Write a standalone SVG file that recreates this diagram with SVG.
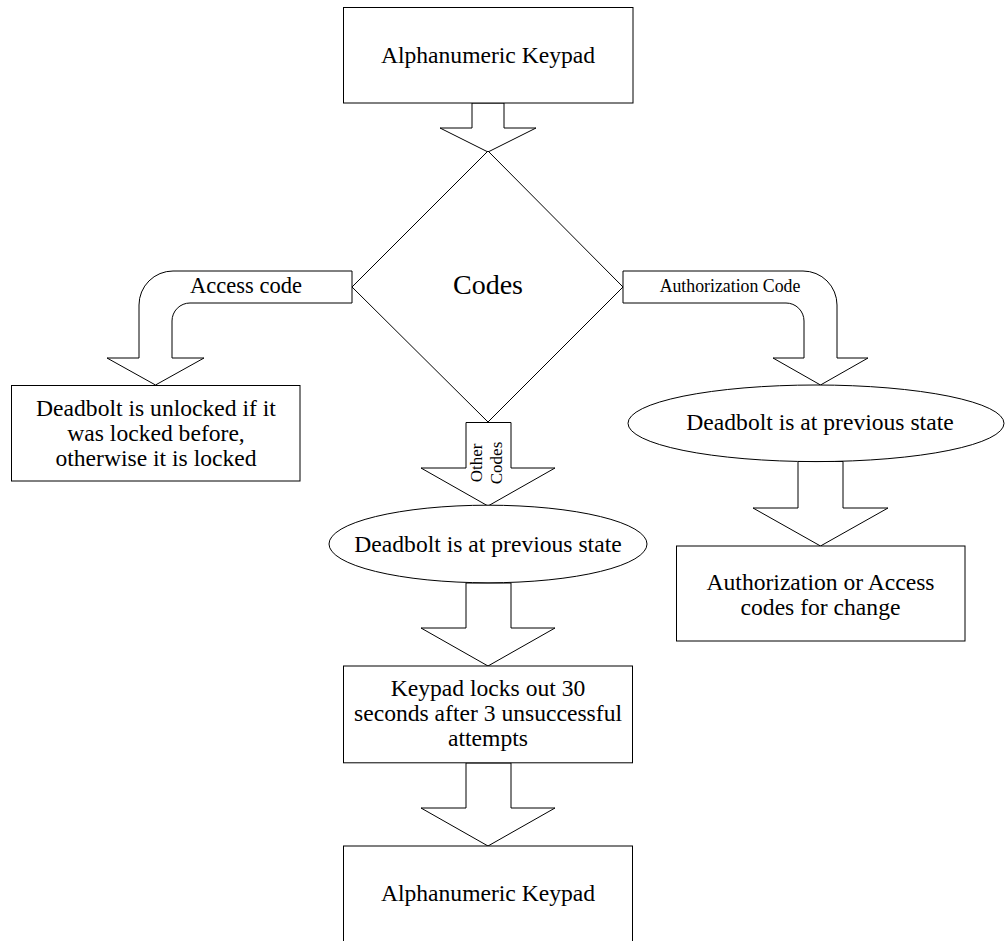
<svg xmlns="http://www.w3.org/2000/svg" width="1005" height="941" viewBox="0 0 1005 941">
  <style>
    .shape { fill: #ffffff; stroke: #000000; stroke-width: 1; }
    .arrow { fill: #ffffff; stroke: #000000; stroke-width: 1; stroke-linejoin: miter; }
    text { font-family: "Liberation Serif", "Times New Roman", serif; fill: #000000; text-anchor: middle; }
    .t24 { font-size: 23.6px; }
    .t22 { font-size: 22.5px; }
    .t18 { font-size: 17.8px; }
    .t15 { font-size: 17px; }
    .t28 { font-size: 28px; }
  </style>
  <rect width="1005" height="941" fill="#ffffff"/>

  <!-- block arrows and their labels -->
  <g id="connectors">
    <!-- keypad to decision -->
    <path class="arrow" d="M472,103 L504,103 L504,128 L536,128 L488,152 L440,128 L472,128 Z"/>
    <!-- access code branch (bends left then down) -->
    <path class="arrow" d="M352,271 L173,271 A34,34 0 0 0 139,305 L139,358 L107,358 L155.5,385 L204,358 L172,358 L172,321 A18,18 0 0 1 190,303 L352,303 Z"/>
    <text class="t22" x="246" y="293">Access code</text>
    <!-- authorization code branch (bends right then down) -->
    <path class="arrow" d="M623,271 L803,271 A34,34 0 0 1 837,305 L837,358 L868,358 L820.5,385 L773,358 L804,358 L804,321 A18,18 0 0 0 786,303 L623,303 Z"/>
    <text class="t18" x="730" y="292">Authorization Code</text>
    <!-- other codes branch -->
    <path class="arrow" d="M466,422.5 L511,422.5 L511,468 L555,468 L488,506 L421,468 L466,468 Z"/>
    <text class="t15" transform="translate(482,463) rotate(-90)"><tspan x="0" y="0">Other</tspan><tspan x="0" y="20">Codes</tspan></text>
    <!-- previous state (middle) to lockout -->
    <path class="arrow" d="M466,583 L511,583 L511,628 L555,628 L488,666 L421,628 L466,628 Z"/>
    <!-- lockout to keypad -->
    <path class="arrow" d="M466,763 L511,763 L511,808 L555,808 L488,846 L421,808 L466,808 Z"/>
    <!-- previous state (right) to code change -->
    <path class="arrow" d="M798,461.5 L843,461.5 L843,508 L888,508 L820.5,546 L753,508 L798,508 Z"/>
  </g>

  <g id="keypad-top">
    <rect class="shape" x="343.5" y="7.5" width="289.5" height="95.5"/>
    <text class="t24" x="488" y="63">Alphanumeric Keypad</text>
  </g>

  <g id="codes">
    <polygon class="shape" points="488,151 623,287 488,422 352,287"/>
    <text class="t28" x="488" y="294">Codes</text>
  </g>

  <g id="deadbolt-toggle">
    <rect class="shape" x="11.5" y="385.5" width="288.5" height="95.5"/>
    <text class="t24" x="156" y="416">Deadbolt is unlocked if it</text>
    <text class="t24" x="156" y="441">was locked before,</text>
    <text class="t24" x="156" y="466">otherwise it is locked</text>
  </g>

  <g id="previous-state-right">
    <ellipse class="shape" cx="816" cy="423.3" rx="188" ry="38.3"/>
    <text class="t24" x="820" y="430">Deadbolt is at previous state</text>
  </g>

  <g id="code-change">
    <rect class="shape" x="676.5" y="546" width="288.5" height="95"/>
    <text class="t24" x="820.5" y="590">Authorization or Access</text>
    <text class="t24" x="820.5" y="615">codes for change</text>
  </g>

  <g id="previous-state-middle">
    <ellipse class="shape" cx="488" cy="544" rx="159" ry="38.8"/>
    <text class="t24" x="488" y="552">Deadbolt is at previous state</text>
  </g>

  <g id="lockout">
    <rect class="shape" x="343.5" y="666" width="289" height="96.8"/>
    <text class="t24" x="488" y="696">Keypad locks out 30</text>
    <text class="t24" x="488" y="721">seconds after 3 unsuccessful</text>
    <text class="t24" x="488" y="746">attempts</text>
  </g>

  <g id="keypad-bottom">
    <rect class="shape" x="343.5" y="846" width="289" height="96"/>
    <text class="t24" x="488" y="901">Alphanumeric Keypad</text>
  </g>
</svg>
